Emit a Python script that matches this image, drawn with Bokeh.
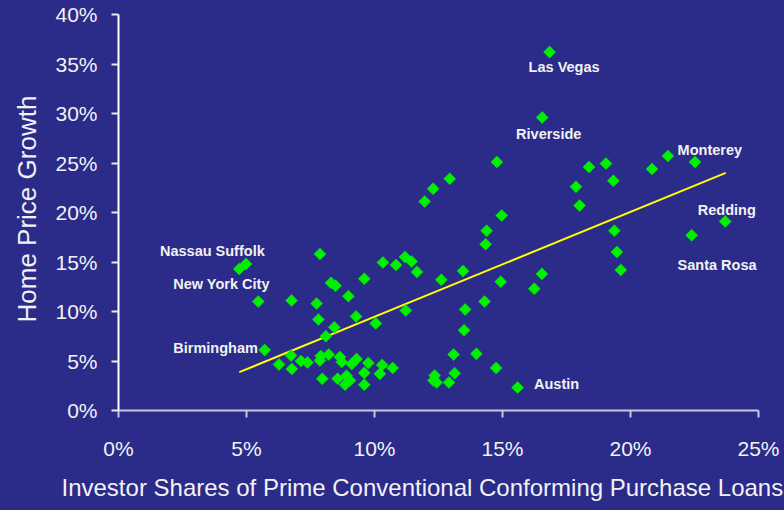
import math
from bokeh.plotting import figure
from bokeh.models import ColumnDataSource, FixedTicker, Range1d, Title
from bokeh.core.properties import value
from bokeh.embed import file_html
from bokeh.resources import INLINE

# ---- data (percent units) ----
investor_share = [
    16.84, 16.55, 14.78, 12.94, 12.29, 11.96, 18.38, 19.04, 17.87, 19.33,
    18.01, 20.84, 21.46, 22.52, 14.97, 23.70, 22.39, 14.38, 14.34, 19.37,
    19.47, 19.62, 13.46, 12.61, 11.66, 16.54, 16.24, 14.93, 14.30, 13.54,
    13.50, 13.09, 13.98, 14.75, 13.13, 12.35, 12.30, 12.43, 12.91, 15.59,
    4.98, 4.72, 7.87, 10.33, 10.84, 11.19, 11.45, 9.60, 8.30, 8.48,
    8.98, 5.46, 6.76, 7.74, 11.22, 7.81, 9.28, 10.05, 8.43, 8.10,
    5.71, 6.74, 6.27, 6.77, 7.13, 7.38, 7.90, 7.87, 8.21, 8.65,
    8.72, 9.30, 9.11, 9.76, 10.30, 10.71, 10.21, 9.60, 7.96, 8.56,
    8.91, 9.04, 8.85, 9.60,
]
price_growth = [
    36.2, 29.6, 25.1, 23.4, 22.4, 21.1, 24.6, 24.95, 22.6, 23.2,
    20.7, 24.4, 25.7, 25.1, 19.7, 19.1, 17.7, 18.15, 16.8, 18.15,
    16.0, 14.2, 14.1, 13.2, 14.0, 13.8, 12.3, 13.0, 11.0, 10.2,
    8.1, 5.66, 5.72, 4.3, 3.77, 3.54, 3.03, 2.83, 2.83, 2.32,
    14.8, 14.3, 15.8, 14.95, 14.7, 15.5, 15.05, 13.3, 12.9, 12.6,
    11.55, 11.0, 11.1, 10.8, 10.1, 9.2, 9.5, 8.8, 8.4, 7.5,
    6.1, 5.56, 4.65, 4.2, 5.0, 4.85, 5.5, 5.05, 5.66, 5.4,
    4.9, 5.2, 4.7, 4.8, 4.6, 4.3, 3.7, 3.8, 3.2, 3.2,
    3.5, 3.03, 2.6, 2.6,
]

trend_x = [4.72, 23.72]
trend_y = [3.87, 24.0]

label_names = ["Las Vegas", "Riverside", "Monterey", "Redding", "Santa Rosa",
               "Austin", "Nassau Suffolk", "New York City", "Birmingham"]
label_x = [16.02, 15.53, 21.84, 22.63, 21.84, 16.23, 1.62, 2.14, 2.14]
label_y = [34.68, 27.95, 26.36, 20.30, 14.72, 2.66, 16.09, 12.80, 6.29]

x_ticks = [0, 5, 10, 15, 20, 25]
x_tick_labels = ["0%", "5%", "10%", "15%", "20%", "25%"]
y_ticks = [0, 5, 10, 15, 20, 25, 30, 35, 40]
y_tick_labels = ["0%", "5%", "10%", "15%", "20%", "25%", "30%", "35%", "40%"]

x_title = "Investor Shares of Prime Conventional Conforming Purchase Loans"
y_title = "Home Price Growth"

BG = "#2b2b8a"
FONT = "Liberation Sans"
TXT = "#f2f2f2"

p = figure(width=784, height=510, output_backend="svg", toolbar_location=None,
           x_range=Range1d(0, 25), y_range=Range1d(0, 40),
           min_border_left=118, min_border_right=26, min_border_top=14,
           min_border_bottom=100)
p.background_fill_color = BG
p.border_fill_color = BG
p.outline_line_color = None
p.xgrid.grid_line_color = None
p.ygrid.grid_line_color = None

# trend line
p.line(trend_x, trend_y, line_color="#ffff00", line_width=2)

# points
src = ColumnDataSource(dict(x=investor_share, y=price_growth))
p.scatter("x", "y", source=src, marker="square", angle=math.pi / 4,
          size=8.5, fill_color="#00f000", line_color="#00f000", line_width=0.5)

# city labels
lsrc = ColumnDataSource(dict(x=label_x, y=label_y, t=label_names))
p.text("x", "y", text="t", source=lsrc, text_font=value(FONT),
       text_font_style="bold", text_font_size="14.5px", text_color=TXT,
       text_align="left", text_baseline="middle")

# axes
for ax, ticks, labels in ((p.xaxis, x_ticks, x_tick_labels),
                          (p.yaxis, y_ticks, y_tick_labels)):
    ax.ticker = FixedTicker(ticks=ticks)
    ax.major_label_overrides = {t: l for t, l in zip(ticks, labels)}
    ax.minor_tick_line_color = None
    ax.major_tick_in = 0
    ax.major_tick_out = 7
    ax.axis_line_width = 2
    ax.major_tick_line_width = 2
    ax.major_label_text_font = FONT
    ax.major_label_text_font_size = "21px"
    ax.major_label_text_color = TXT

p.xaxis.axis_line_color = "#c8c8dc"
p.xaxis.major_tick_line_color = "#c8c8dc"
p.yaxis.axis_line_color = "#ffffff"
p.yaxis.major_tick_line_color = "#e8e8f0"

p.xaxis.major_label_standoff = 19
p.yaxis.major_label_standoff = 14

# axis titles as side-panel titles
p.add_layout(Title(text=x_title, align="left", offset=-57, standoff=18,
                   text_font=FONT, text_font_size="24px",
                   text_font_style="normal", text_color=TXT), "below")
p.add_layout(Title(text=y_title, align="left", offset=88, standoff=17,
                   vertical_align="top",
                   text_font=FONT, text_font_size="26px",
                   text_font_style="normal", text_color=TXT), "left")

html = file_html(p, INLINE)
html = html.replace("<head>", "<head><style>html,body{background:%s;}</style>" % BG, 1)
open("out.html", "w").write(html)
